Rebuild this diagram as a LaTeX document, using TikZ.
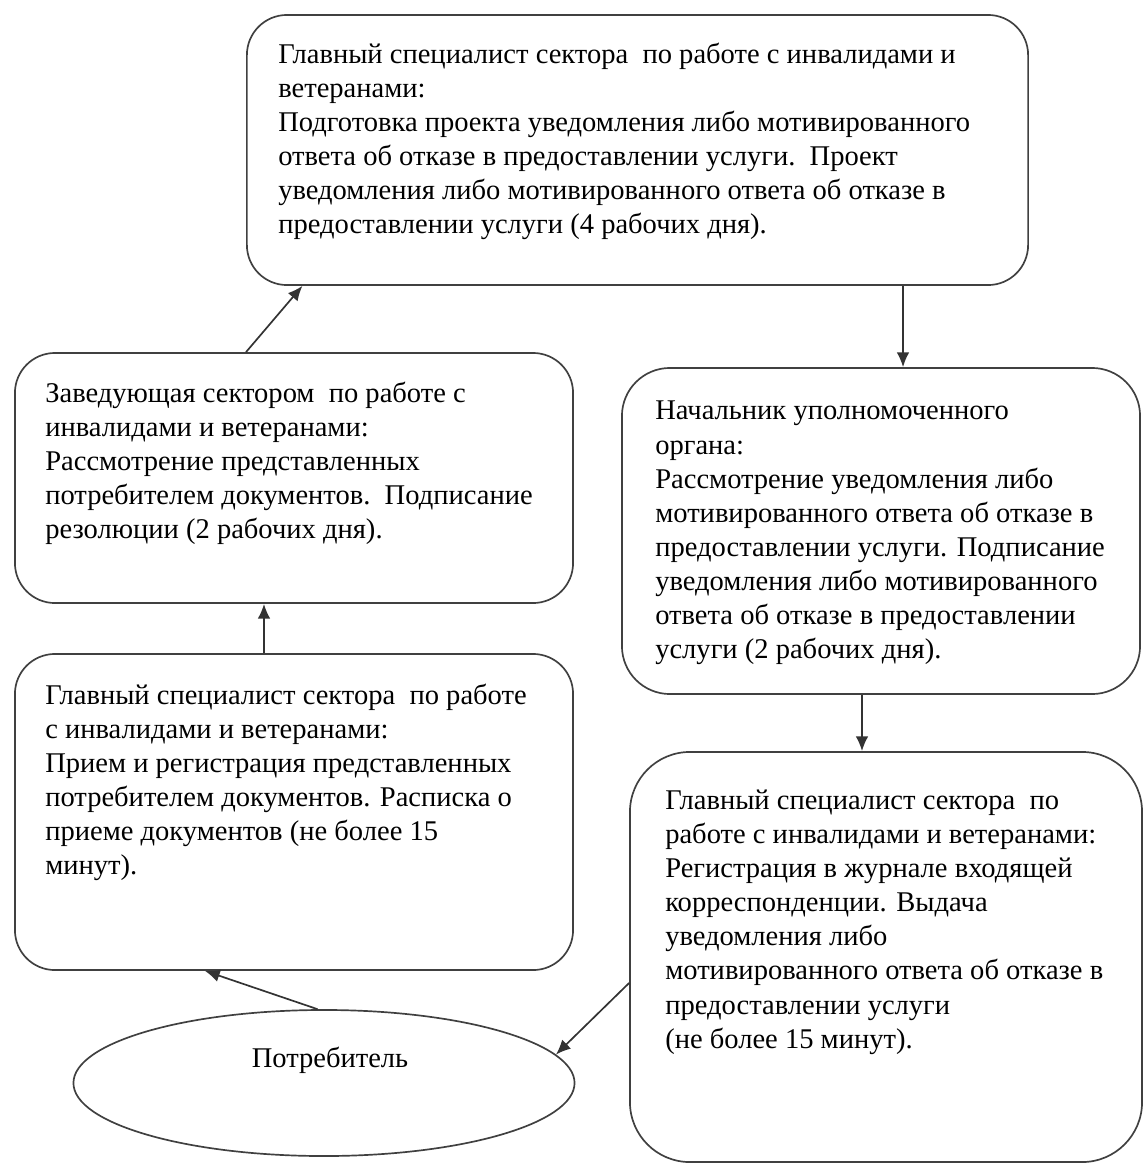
\documentclass[tikz,border=0pt]{standalone}
\usepackage{fontspec}
\setmainfont{Liberation Serif}
\newfontfamily\bodyfont{Liberation Serif}
\usetikzlibrary{shapes.geometric, arrows.meta}
\tikzstyle{stage} = [rectangle, rounded corners=1cm, draw=black!75, line width=1.2pt]
\tikzstyle{client} = [ellipse, draw=black!75, line width=1.2pt]
\tikzstyle{txt} = [anchor=north west, inner sep=0pt, align=left, font=\bodyfont\fontsize{20.3}{24.2}\selectfont]
\tikzstyle{arrow} = [-{Latex[length=10.5pt,width=9pt]}, line width=1.2pt, draw=black!80]

\begin{document}
\begin{tikzpicture}[x=0.025cm, y=-0.025cm]
	\useasboundingbox (0,0) rectangle (1145,1165);
	% блоки
	\node (Spec) [stage, minimum width=19.525cm, minimum height=6.75cm] at (637.5,150) {};
	\node (Head) [stage, minimum width=13.95cm, minimum height=6.25cm] at (294,478) {};
	\node (Chief) [stage, minimum width=12.95cm, minimum height=8.15cm, rounded corners=1.2cm] at (881,531) {};
	\node (Recv) [stage, minimum width=13.95cm, minimum height=7.9cm] at (294,812) {};
	\node (Issue) [stage, minimum width=12.8cm, minimum height=10.25cm, rounded corners=1.5cm] at (886,957) {};
	\node (Cons) [client, minimum width=12.525cm, minimum height=3.65cm] at (324,1083) {};
	% тексты
	\node (SpecT) [txt] at (278,43) {Главный специалист сектора\ \ по работе с инвалидами и\\
		ветеранами:\\
		Подготовка проекта уведомления либо мотивированного\\
		ответа об отказе в предоставлении услуги.\ \ Проект\\
		уведомления либо мотивированного ответа об отказе в\\
		предоставлении услуги (4 рабочих дня).};
	\node (HeadT) [txt] at (45,382) {Заведующая сектором\ \ по работе с\\
		инвалидами и ветеранами:\\
		Рассмотрение представленных\\
		потребителем документов.\ \ Подписание\\
		резолюции (2 рабочих дня).};
	\node (ChiefT) [txt] at (655,401) {Начальник уполномоченного\\
		органа:\\
		Рассмотрение уведомления либо\\
		мотивированного ответа об отказе в\\
		предоставлении услуги. Подписание\\
		уведомления либо мотивированного\\
		ответа об отказе в предоставлении\\
		услуги (2 рабочих дня).};
	\node (RecvT) [txt] at (45,684) {Главный специалист сектора\ \ по работе\\
		с инвалидами и ветеранами:\\
		Прием и регистрация представленных\\
		потребителем документов. Расписка о\\
		приеме документов (не более 15\\
		минут).};
	\node (IssueT) [txt] at (665,790) {Главный специалист сектора\ \ по\\
		работе с инвалидами и ветеранами:\\
		Регистрация в журнале входящей\\
		корреспонденции. Выдача\\
		уведомления либо\\
		мотивированного ответа об отказе в\\
		предоставлении услуги\\
		(не более 15 минут).};
	\node (ConsT) [txt, anchor=center] at (330,1060) {Потребитель};
	% стрелки
	\draw [arrow]([xshift=-1.2cm]Head.north) -- ([xshift=-8.375cm]Spec.south);
	\draw [arrow]([xshift=0.55cm]Chief.north |- Spec.south) -- ([xshift=0.55cm]Chief.north);
	\draw [arrow]([xshift=-0.75cm]Head.south |- Recv.north) -- ([xshift=-0.75cm]Head.south);
	\draw [arrow]([xshift=-0.475cm]Chief.south) -- ([xshift=-0.475cm]Chief.south |- Issue.north);
	\draw [arrow](Cons.95) -- ([xshift=-2.225cm]Recv.south);
	\draw [arrow]([yshift=-0.65cm]Issue.west) -- (Cons.7);
\end{tikzpicture}
\end{document}
